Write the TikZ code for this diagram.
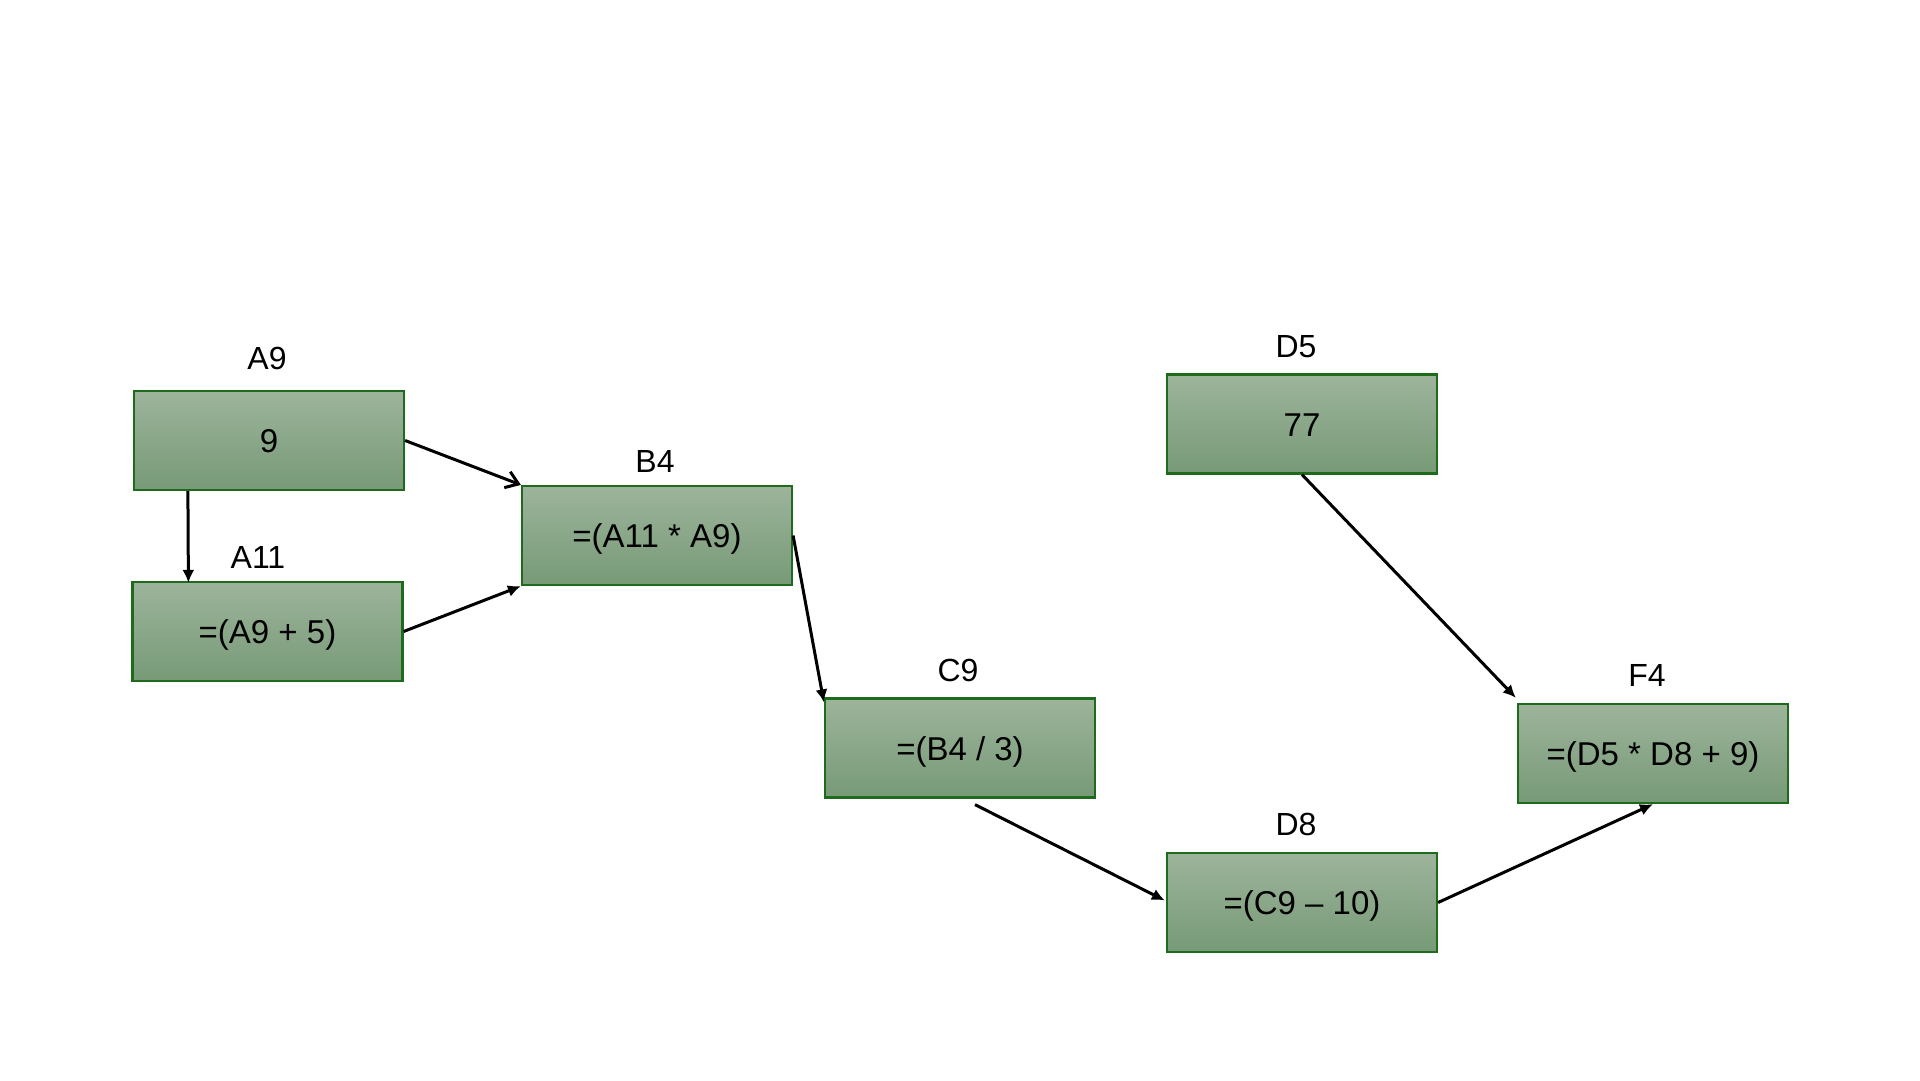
\documentclass[tikz,border=0pt]{standalone}
\usepackage{fontspec}
\setmainfont{Liberation Sans}
\usetikzlibrary{arrows.meta,calc}
\definecolor{boxtop}{HTML}{9DB49B}
\definecolor{boxbot}{HTML}{779A77}
\definecolor{boxline}{HTML}{1E6B1E}
\tikzset{
  cell/.style={rectangle, draw=boxline, line width=2.2pt, top color=boxtop, bottom color=boxbot,
    minimum width=270pt, minimum height=99pt, inner sep=0pt,
    font=\fontsize{33}{39}\selectfont, text height=29.5pt, text depth=5.5pt},
  cellname/.style={anchor=base, inner sep=0pt, font=\fontsize{32}{38}\selectfont},
  link/.style={draw=black, line width=3pt, -{Latex[length=13pt,width=12pt]}},
  openlink/.style={draw=black, line width=3pt, -{Straight Barb[length=12pt,width=17pt,line width=3pt]}}
}
\begin{document}
\begin{tikzpicture}[x=1pt,y=-1pt]
\useasboundingbox[fill=white] (0,0) rectangle (1920,1080);
% boxes
\node[cell] (A9)  at (269,440.5) {9};
\node[cell] (A11) at (267.5,631.5) {=(A9 + 5)};
\node[cell] (B4)  at (657,535.5) {=(A11 * A9)};
\node[cell] (C9)  at (960,748) {=(B4 / 3)};
\node[cell] (D5)  at (1302,424) {77};
\node[cell] (D8)  at (1302,902.5) {=(C9 – 10)};
\node[cell] (F4)  at (1653,753.5) {=(D5 * D8 + 9)};
% names
\node[cellname] (lA9)  at (267,369) {A9};
\node[cellname] (lA11) at (258,568) {A11};
\node[cellname] (lB4)  at (655,472) {B4};
\node[cellname] (lC9)  at (958,681) {C9};
\node[cellname] (lD5)  at (1296,357) {D5};
\node[cellname] (lD8)  at (1296,835) {D8};
\node[cellname] (lF4)  at (1647,686) {F4};
% connectors
\draw[link] ($(A9.south west)+(55,0)$) -- ($(A11.north west)+(57,2)$);
\draw[openlink] (A9.east) -- (B4.north west);
\draw[link] (A11.east) -- (B4.south west);
\draw[link] (B4.east) -- ($(C9.north west)+(0,5)$);
\draw[link] ($(C9.south)+(15,6)$) -- ($(D8.west)+(-1,-2)$);
\draw[link] (D5.south) -- ($(F4.north west)+(-1,-5)$);
\draw[link] (D8.east) -- (F4.south);
\end{tikzpicture}
\end{document}
